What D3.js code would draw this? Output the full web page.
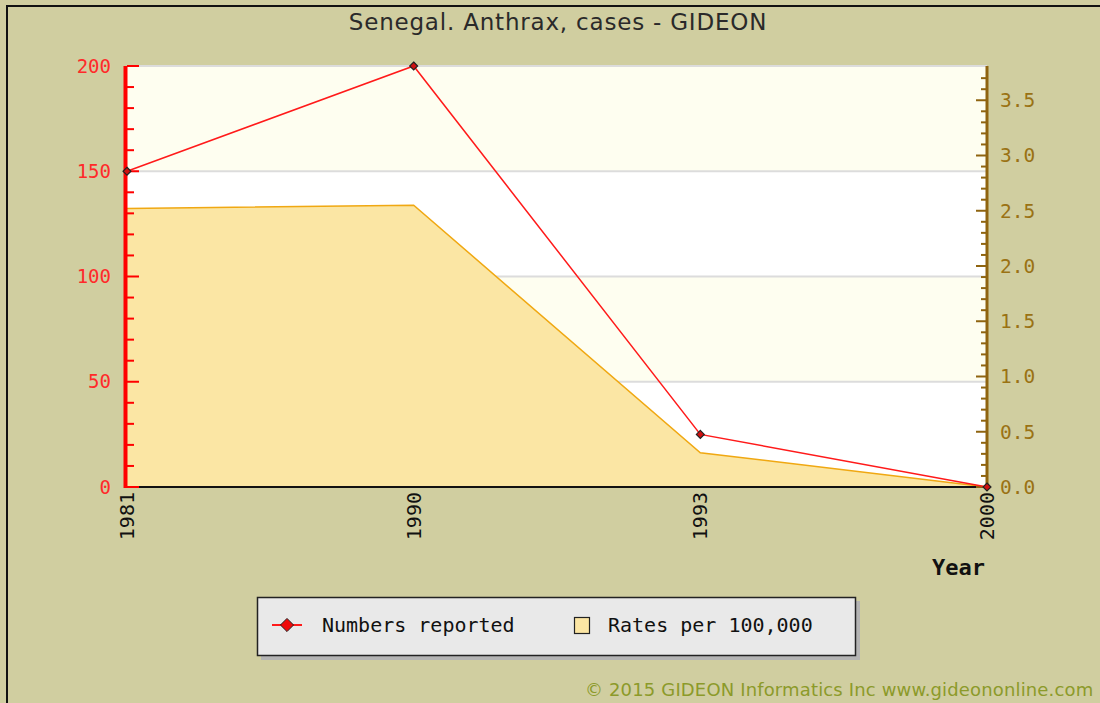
<!DOCTYPE html>
<html><head><meta charset="utf-8">
<script src="https://cdn.jsdelivr.net/npm/d3@7"></script>
<style>body{margin:0;background:#d0cea0;overflow:hidden}svg{display:block}</style>
</head><body>
<svg id="c" width="1100" height="703"></svg>
<script>
const years = ["1981","1990","1993","2000"];
const numbers = [150, 200, 25, 0];
const rates = [2.52, 2.55, 0.31, 0.0];
const leftTicks = [0, 50, 100, 150, 200];
const rightTicks = [0, 0.5, 1.0, 1.5, 2.0, 2.5, 3.0, 3.5];
const title = "Senegal. Anthrax, cases - GIDEON";
const legendLabels = ["Numbers reported", "Rates per 100,000"];
const footer = "\u00A9 2015 GIDEON Informatics Inc www.gideononline.com";

const svg = d3.select("#c");
const L = 127, R = 987, T = 66, B = 487;
const mono = "'DejaVu Sans Mono', monospace";

svg.append("rect").attr("x",0).attr("y",0).attr("width",1100).attr("height",703).attr("fill","#d0cea0");
svg.append("rect").attr("x",7).attr("y",6).attr("width",1200).attr("height",800)
  .attr("fill","none").attr("stroke","#111").attr("stroke-width",2);

const x = d3.scalePoint().domain(years).range([L, R]);
const yL = d3.scaleLinear().domain([0, 200]).range([B, T]);
const yR = d3.scaleLinear().domain([0, 3.81]).range([B, T]);

// bands
const bands = [[150,200,"#fefef0"],[100,150,"#ffffff"],[50,100,"#fefef0"],[0,50,"#ffffff"]];
svg.append("g").selectAll("rect").data(bands).join("rect")
  .attr("x", L).attr("width", R-L)
  .attr("y", d=>yL(d[1])).attr("height", d=>yL(d[0])-yL(d[1]))
  .attr("fill", d=>d[2]);
// gridlines
svg.append("g").selectAll("line").data(leftTicks.filter(d=>d>0)).join("line")
  .attr("x1",L).attr("x2",R).attr("y1",d=>yL(d)).attr("y2",d=>yL(d))
  .attr("stroke","#dcdcdc").attr("stroke-width",2);

// area
const area = d3.area().x((d,i)=>x(years[i])).y0(B).y1(d=>yR(d));
svg.append("path").datum(rates).attr("d",area).attr("fill","#fbe6a4");
svg.append("path").datum(rates).attr("d",d3.line().x((d,i)=>x(years[i])).y(d=>yR(d)))
  .attr("fill","none").attr("stroke","#f0a812").attr("stroke-width",1.5);

// x axis
svg.append("line").attr("x1",L).attr("x2",R).attr("y1",B).attr("y2",B).attr("stroke","#111").attr("stroke-width",2);
const xg = svg.append("g");
xg.selectAll("text").data(years).join("text")
  .attr("transform", d=>`translate(${x(d)},${B+5}) rotate(-90)`)
  .attr("text-anchor","end").attr("dy","0.35em")
  .attr("font-family",mono).attr("font-size",20).attr("fill","#111").text(d=>d);

// left axis
const lminor = d3.range(0, 201, 10);
svg.append("g").selectAll("line").data(lminor).join("line")
  .attr("x1",L).attr("x2",d=>d%50===0?L+12:L+7).attr("y1",d=>yL(d)).attr("y2",d=>yL(d))
  .attr("stroke","#ff0000").attr("stroke-width",2);
svg.append("line").attr("x1",L-1.5).attr("x2",L-1.5).attr("y1",T).attr("y2",B+1).attr("stroke","#ff0000").attr("stroke-width",4);
svg.append("g").selectAll("text").data(leftTicks).join("text")
  .attr("x",111).attr("y",d=>yL(d)).attr("dy","0.35em").attr("text-anchor","end")
  .attr("font-family",mono).attr("font-size",19).attr("fill","#ff2a2a").text(d=>d);

// right axis
const rminor = d3.range(0, 38).map(d=>d/10);
svg.append("g").selectAll("line").data(rminor).join("line")
  .attr("x1",R).attr("x2",(d,i)=>i%5===0?R-11:R-6).attr("y1",d=>yR(d)).attr("y2",d=>yR(d))
  .attr("stroke","#8f6410").attr("stroke-width",2);
svg.append("line").attr("x1",R).attr("x2",R).attr("y1",T).attr("y2",B+1).attr("stroke","#8f6410").attr("stroke-width",3);
svg.append("g").selectAll("text").data(rightTicks).join("text")
  .attr("x",1000).attr("y",d=>yR(d)).attr("dy","0.35em").attr("text-anchor","start")
  .attr("font-family",mono).attr("font-size",19.5).attr("fill","#9a7214").text(d=>d.toFixed(1));

// line + markers
svg.append("path").datum(numbers).attr("d",d3.line().x((d,i)=>x(years[i])).y(d=>yL(d)))
  .attr("fill","none").attr("stroke","#ff1a1a").attr("stroke-width",1.5);
const diamond = d3.symbol().type(d3.symbolDiamond2).size(40);
svg.append("g").selectAll("path").data(numbers).join("path")
  .attr("transform",(d,i)=>`translate(${x(years[i])},${yL(d)})`)
  .attr("d",diamond).attr("fill","#d01010").attr("stroke","#222").attr("stroke-width",1.2);

// title
svg.append("text").attr("x",558).attr("y",30).attr("text-anchor","middle")
  .attr("font-family","'DejaVu Sans', sans-serif").attr("font-size",23).attr("letter-spacing",0.8)
  .attr("fill","#2a2a2a").text(title);

// Year
svg.append("text").attr("x",985).attr("y",575).attr("text-anchor","end")
  .attr("font-family",mono).attr("font-weight","bold").attr("font-size",22).attr("fill","#111").text("Year");

// legend
svg.append("rect").attr("x",261).attr("y",601).attr("width",599).attr("height",59).attr("fill","#b4b4b4");
svg.append("rect").attr("x",257.5).attr("y",597.5).attr("width",598).attr("height",58)
  .attr("fill","#e9e9e9").attr("stroke","#222").attr("stroke-width",1.5);
svg.append("line").attr("x1",272).attr("x2",302).attr("y1",625).attr("y2",625).attr("stroke","#ff1a1a").attr("stroke-width",2);
svg.append("path").attr("transform","translate(287,625)").attr("d",d3.symbol().type(d3.symbolDiamond2).size(110))
  .attr("fill","#ee0a0a").attr("stroke","#222").attr("stroke-width",1);
svg.append("text").attr("x",322).attr("y",625).attr("dy","0.35em")
  .attr("font-family",mono).attr("font-size",20).attr("fill","#111").text(legendLabels[0]);
svg.append("rect").attr("x",574.5).attr("y",617.5).attr("width",15).attr("height",16)
  .attr("fill","#fce6a4").attr("stroke","#222").attr("stroke-width",1.2);
svg.append("text").attr("x",608).attr("y",625).attr("dy","0.35em")
  .attr("font-family",mono).attr("font-size",20).attr("fill","#111").text(legendLabels[1]);

// footer
svg.append("text").attr("x",585).attr("y",696)
  .attr("font-family","'DejaVu Sans', sans-serif").attr("font-size",18).attr("letter-spacing",0.15)
  .attr("fill","#8c9a2a").text(footer);
</script>
</body></html>
